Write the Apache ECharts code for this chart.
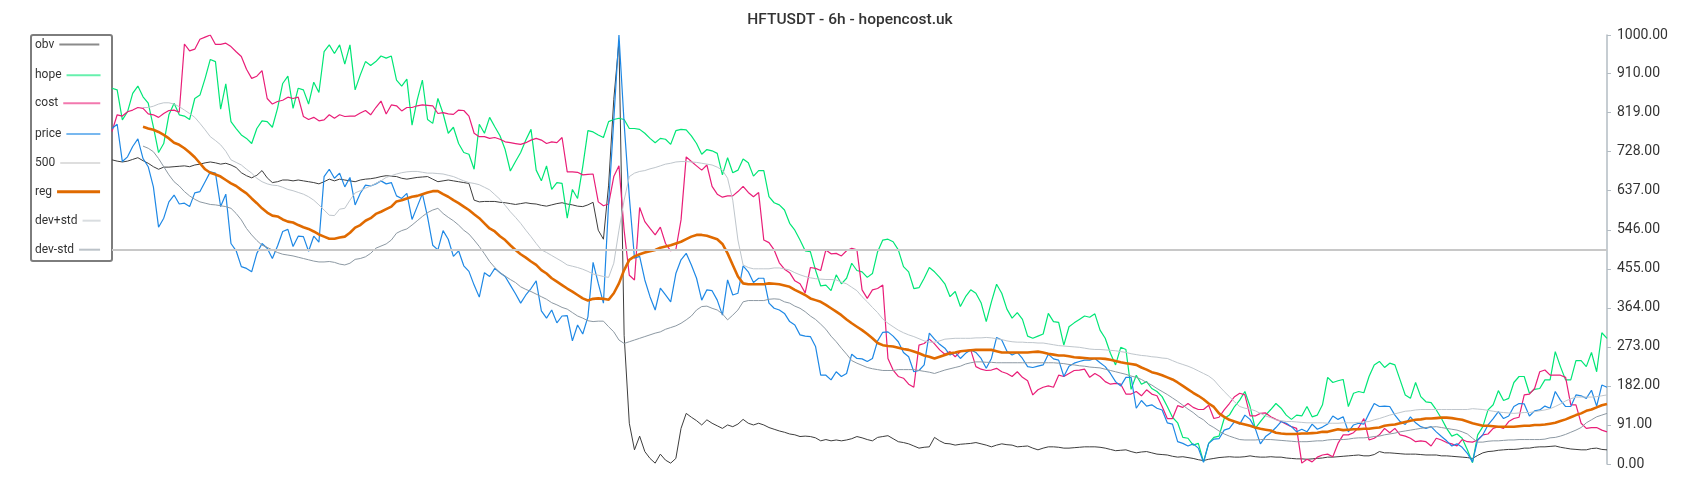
<!DOCTYPE html>
<html>
<head>
<meta charset="utf-8">
<script src="https://cdn.jsdelivr.net/npm/echarts/dist/echarts.min.js"></script>
<style>html,body{margin:0;padding:0;background:#fff}#chart{width:1700px;height:500px}</style>
</head>
<body>
<div id="chart"></div>
<script>
const titleText = 'HFTUSDT - 6h - hopencost.uk';
const seriesNames = ['obv', 'hope', 'cost', 'price', '500', 'reg', 'dev+std', 'dev-std'];
const refLevel = 500;
const yTicks = {min: 0, max: 1000, interval: 91};

const price = [
782,792,705,716,740,758,712,693,646,552,573,611,627,606,608,600,632,635,658,681,
678,600,629,514,497,460,456,448,491,514,503,479,508,542,547,507,531,530,496,531,
517,670,687,666,678,646,668,604,
631,650,648,653,660,653,656,625,619,631,570,600,630,576,510,499,544,524,484,497,
462,449,417,389,446,437,456,446,437,417,397,375,394,409,427,357,340,359,329,345,
346,287,324,303,343,470,421,375,
608,802,1000,794,623,480,484,429,390,359,410,394,378,444,476,491,464,433,382,406,
404,382,347,429,394,398,462,448,423,433,433,375,363,359,351,332,324,301,298,297,
274,207,207,196,215,204,211,
256,246,245,239,246,287,307,308,298,285,260,250,215,218,231,305,291,279,270,254,
260,246,258,266,260,246,223,246,295,289,263,254,260,246,227,225,228,231,256,245,
242,204,228,235,239,242,242,246,
236,227,211,192,182,202,202,130,148,135,138,130,126,96,93,52,48,42,47,37,
4,48,58,59,79,83,99,93,114,104,83,47,64,73,85,99,95,87,75,81,
75,93,81,86,93,112,104,
110,75,91,95,93,118,141,134,135,134,114,99,92,110,96,87,83,87,75,64,
54,42,47,39,25,5,56,68,91,106,122,106,112,134,141,140,112,124,126,135,
130,169,149,134,134,161,159,153,172,135,184,179
];

const hope = [
876,872,802,821,864,881,856,841,786,726,747,814,841,814,811,803,852,860,899,943,
938,827,886,798,782,767,759,747,782,800,798,785,829,887,904,829,876,872,839,890,
866,961,977,957,977,932,977,872,
907,938,929,938,951,946,951,895,881,897,790,849,895,803,794,852,817,771,785,747,
726,722,687,792,771,808,786,765,733,683,705,726,755,780,685,660,695,640,656,654,
573,640,619,693,777,774,767,761,
798,803,806,803,782,782,780,771,759,749,759,757,745,777,780,779,765,747,722,733,
730,724,674,714,679,685,711,702,671,684,684,623,609,604,592,561,545,522,497,495,
452,415,417,404,441,420,433,
468,451,448,435,444,495,522,524,518,499,460,448,409,411,433,458,448,435,420,390,
402,367,390,406,398,376,332,378,419,398,361,340,353,337,298,293,298,303,351,332,
330,277,320,329,337,345,342,350,
312,293,258,231,272,267,174,207,186,192,176,169,157,134,109,96,62,60,44,48,
5,48,62,65,106,114,134,149,169,134,83,99,114,127,141,130,114,104,114,112,
134,110,114,138,202,190,194,
197,134,165,169,166,204,231,239,225,235,231,196,161,153,190,157,145,143,126,106,
83,65,70,60,33,3,68,87,126,138,171,148,153,190,204,204,165,174,176,196,
196,262,227,196,196,241,241,227,260,215,306,293
];

const cost = [
775,814,811,821,825,831,829,816,814,808,817,824,825,820,979,963,967,990,995,1000,
978,978,981,973,961,950,920,899,904,917,852,839,845,848,855,852,855,810,803,808,
800,802,814,806,814,810,811,811,
818,824,814,831,846,816,837,835,823,831,831,835,837,836,835,817,819,816,815,825,
824,811,771,763,763,759,761,757,751,749,747,745,749,755,759,755,747,751,749,761,
681,681,680,674,675,676,611,602,
606,670,695,545,440,429,598,565,549,534,552,514,497,500,569,716,705,695,685,697,
647,629,622,625,625,635,647,633,623,633,522,516,499,469,454,446,427,420,399,458,
456,451,499,490,491,485,497,
503,499,406,386,406,409,417,246,219,204,200,186,179,277,281,291,280,266,256,262,
250,262,264,266,227,221,218,219,223,215,211,204,215,202,194,161,173,179,182,179,
207,204,211,218,219,221,202,211,
204,192,186,188,186,163,163,169,159,173,163,159,134,106,106,136,132,141,132,127,
127,137,106,109,126,141,157,165,161,112,112,118,119,110,104,99,93,87,83,2,
11,5,16,21,23,17,48,
68,68,73,85,106,56,60,68,83,73,83,68,65,60,52,54,52,42,60,56,
50,47,42,57,52,51,56,68,70,83,87,83,99,106,109,161,163,176,215,219,
207,207,207,202,138,138,95,83,85,85,79,75
];

const obv = [
709,706,704,706,710,714,707,701,693,687,692,692,693,694,695,693,697,699,702,704,
702,699,701,697,691,679,672,667,673,684,667,656,658,662,662,660,662,660,658,656,
653,658,664,660,664,662,660,658,
662,664,665,667,670,672,671,670,666,664,666,668,669,670,664,658,660,662,660,658,
656,654,615,611,612,612,612,610,609,607,605,607,609,607,606,603,601,604,607,609,
606,604,601,600,604,610,545,524,
650,850,985,300,95,33,65,29,13,2,23,9,2,13,83,118,109,101,91,103,
95,89,83,91,87,93,104,95,91,95,91,85,81,77,74,70,68,64,65,64,
61,54,57,54,56,54,56,
59,64,61,57,54,62,64,66,59,52,50,47,42,37,39,40,62,54,48,47,
44,46,47,48,50,47,44,40,44,47,45,44,40,41,42,37,33,37,40,40,
39,37,37,38,39,40,40,40,
39,37,34,31,32,33,29,26,28,29,26,23,22,21,18,16,17,15,13,10,
8,11,13,15,16,17,16,16,17,19,17,16,16,17,16,16,14,13,12,12,
11,12,13,14,16,16,17,
18,19,20,21,19,19,22,29,26,26,25,24,23,23,23,22,21,21,21,19,
19,18,17,16,15,13,20,26,29,30,32,33,34,34,35,37,37,39,40,40,
41,42,39,37,35,34,33,33,36,37,34,33
];

const reg = [
null,null,null,null,null,null,
786,782,779,774,767,759,749,744,736,726,715,701,687,679,675,670,662,654,648,639,
631,619,608,596,586,579,577,570,565,563,557,552,548,542,535,530,525,525,528,530,
539,551,
557,567,573,583,588,594,600,612,615,619,623,625,629,633,636,636,629,623,615,608,
600,592,582,573,561,549,542,531,522,510,499,489,481,472,464,452,444,433,425,417,
409,402,394,386,381,385,386,385,
383,398,421,452,476,484,489,493,496,499,504,507,510,514,518,524,530,534,534,532,
528,524,513,491,464,437,421,419,419,419,419,421,420,419,416,413,406,400,394,386,
382,378,371,363,355,347,337,
328,320,312,303,293,282,277,275,274,271,268,266,262,258,253,250,246,250,254,258,
260,263,264,265,266,266,266,266,263,260,260,260,260,260,260,261,262,260,257,255,
253,253,251,249,248,247,246,246,
246,245,243,240,237,235,233,231,225,220,214,211,207,202,197,190,182,174,166,159,
151,141,133,118,110,103,99,95,92,89,85,82,80,78,73,71,70,70,70,71,
71,72,73,75,75,78,81,
79,80,81,81,82,82,84,85,89,91,92,95,98,101,103,104,106,106,107,108,
108,107,105,103,99,95,92,89,89,88,87,87,87,87,88,89,89,91,91,92,
94,96,100,104,109,114,118,124,127,132,137,140
];

const devPlus = [
null,null,null,null,null,null,
831,831,834,839,842,842,839,833,825,817,808,794,779,763,754,744,729,709,703,697,
687,678,666,658,653,650,649,645,640,637,633,629,623,615,604,592,580,579,594,596,
615,632,
637,643,648,654,660,668,672,676,679,681,682,682,680,678,678,677,676,673,670,665,
660,656,654,651,645,639,628,617,603,588,575,561,545,530,514,499,493,486,479,472,
464,461,458,454,449,443,440,437,
435,468,545,615,670,678,682,684,688,691,695,699,701,704,705,705,704,703,701,699,
697,692,685,666,615,522,464,458,455,455,455,455,457,457,455,452,446,441,437,434,
432,431,430,430,429,424,420,
412,404,390,378,365,353,338,328,320,312,306,301,297,292,287,284,284,287,291,292,
293,293,293,293,294,294,295,294,292,290,287,285,284,284,283,283,282,282,280,278,
276,275,274,273,272,270,268,267,
267,266,265,264,262,260,257,255,253,252,250,249,247,246,241,236,232,228,223,217,
211,205,196,182,169,157,145,134,130,128,124,118,112,108,103,101,99,99,98,97,
96,96,96,96,95,95,95,
96,96,96,97,98,99,103,106,110,114,117,120,123,124,126,127,127,127,127,127,
127,127,127,127,127,129,128,127,125,123,121,120,119,118,119,120,120,122,124,126,
129,134,140,147,152,156,156,156,156,157,159,161
];

const devMinus = [
null,null,null,null,null,null,
741,736,728,712,693,674,658,648,635,625,617,611,608,605,604,602,600,596,584,569,
549,534,521,510,505,499,493,489,487,485,482,479,476,473,471,471,472,470,466,464,
468,477,
479,483,491,503,508,513,522,538,544,548,557,567,577,586,592,596,584,575,567,557,
545,536,522,507,490,472,458,446,438,430,423,413,407,402,396,390,384,376,371,365,
361,353,345,340,334,332,333,333,
320,308,289,281,285,289,293,297,301,305,308,314,318,322,328,336,345,359,367,368,
363,359,350,336,347,359,378,381,381,381,381,384,385,384,378,375,368,363,355,345,
337,326,314,298,285,270,256,
241,235,230,225,222,220,218,218,218,220,220,220,220,218,216,214,211,215,219,222,
225,228,233,236,238,238,237,237,236,236,236,236,236,236,236,236,236,236,236,236,
235,234,232,231,229,228,226,225,
224,221,218,215,212,209,205,202,197,190,184,176,169,162,154,146,137,128,120,110,
103,92,85,77,70,65,61,57,56,56,56,57,57,57,56,55,54,53,52,52,
52,53,54,54,56,57,57,
57,58,60,61,61,62,64,65,68,70,72,75,77,79,81,83,85,86,87,85,
83,81,79,75,70,60,51,51,53,54,54,55,56,56,57,57,57,57,57,58,
61,62,65,69,74,79,85,96,103,110,114,118
];

const categories = price.map((_, i) => String(i));

const colors = {
  'obv': '#3d3d3d', 'hope': '#00e676', 'cost': '#e91e78', 'price': '#1e88e5',
  '500': '#c8c8c8', 'reg': '#e06a00', 'dev+std': '#bfc6cc', 'dev-std': '#8d99a3'
};
const widths = {'obv': 1, 'hope': 1.2, 'cost': 1.2, 'price': 1.2, '500': 2, 'reg': 2.6, 'dev+std': 1, 'dev-std': 1};
const seriesData = {'obv': obv, 'hope': hope, 'cost': cost, 'price': price, 'reg': reg, 'dev+std': devPlus, 'dev-std': devMinus};

const legendCenters = [45.5, 76.3, 104.3, 135, 164, 192.7, 221.7, 250.7];
const legendIconW = [40, 34, 37, 34, 40, 43, 18, 21];

const series = seriesNames.map(name => {
  const s = {
    name: name, type: 'line', symbol: 'none', showSymbol: false,
    animation: false, silent: true,
    lineStyle: {color: colors[name], width: widths[name]},
    itemStyle: {color: colors[name]},
    data: name === '500' ? [] : seriesData[name]
  };
  if (name === '500') {
    s.markLine = {
      silent: true, symbol: 'none', animation: false,
      label: {show: false},
      lineStyle: {color: colors['500'], width: 2, type: 'solid'},
      data: [{yAxis: refLevel}]
    };
  }
  return s;
});

const legends = seriesNames.map((name, k) => ({
  data: [name], orient: 'vertical', left: 35, top: legendCenters[k] - 7,
  padding: 0, align: 'right', itemWidth: legendIconW[k], itemHeight: 14,
  textStyle: {fontSize: 12, color: '#333', fontFamily: 'Roboto'},
  itemStyle: {opacity: 0, borderWidth: 0},
  lineStyle: {width: name === 'reg' ? 3 : 2, opacity: name === 'reg' ? 1 : 0.6},
  selectedMode: false, z: 5
}));

const chart = echarts.init(document.getElementById('chart'), null, {renderer: 'canvas'});
chart.setOption({
  animation: false,
  backgroundColor: '#fff',
  textStyle: {fontFamily: 'Roboto'},
  title: {
    text: titleText, left: 'center', top: 7,
    textStyle: {fontSize: 15.5, fontWeight: 500, color: '#333', fontFamily: 'Roboto'}
  },
  graphic: [{
    type: 'rect', left: 30, top: 34, z: 0,
    shape: {width: 81, height: 226, r: 2},
    style: {fill: '#fff', stroke: '#7d7d7d', lineWidth: 2}
  }],
  legend: legends,
  grid: {left: 112, right: 93, top: 35, bottom: 36, containLabel: false},
  xAxis: {type: 'category', data: categories, boundaryGap: false, show: false},
  yAxis: {
    type: 'value', position: 'right', min: yTicks.min, max: yTicks.max, interval: yTicks.interval,
    axisLine: {show: true, lineStyle: {color: '#b3bcc3', width: 1.5}},
    axisTick: {show: true, length: 4, lineStyle: {color: '#b3bcc3'}},
    splitLine: {show: false},
    axisLabel: {color: '#333', fontSize: 14, margin: 10, fontFamily: 'Roboto',
      formatter: v => v.toFixed(2)}
  },
  series: series
});
</script>
</body>
</html>
